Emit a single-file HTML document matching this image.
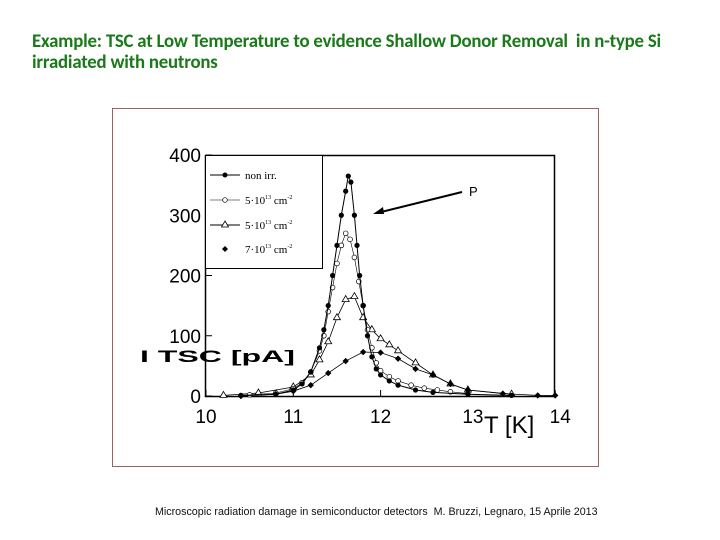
<!DOCTYPE html>
<html><head><meta charset="utf-8"><style>
body{margin:0;background:#fff;width:720px;height:540px;overflow:hidden;position:relative;font-family:"Liberation Sans",sans-serif}
.title{position:absolute;left:32px;top:31px;font-family:"Carlito","Liberation Sans",sans-serif;font-weight:bold;font-size:18.8px;line-height:21px;color:#1a7a1a;letter-spacing:-0.2px;white-space:nowrap}
.foot{position:absolute;left:155px;top:506px;font-size:10.7px;color:#111;white-space:nowrap}
</style></head><body>
<div class="title">Example: TSC at Low Temperature to evidence Shallow Donor Removal&nbsp; in n-type Si<br>irradiated with neutrons</div>
<svg id="chart" width="720" height="540" style="position:absolute;left:0;top:0">
<rect x="112.5" y="108.5" width="486" height="358" fill="none" stroke="#a06060"/>
<g id="axes"></g><g id="series"></g>
<g>
<rect x="205.5" y="155.5" width="117" height="113" fill="#fff" stroke="#000"/>
<line x1="210" y1="175" x2="240" y2="175" stroke="#000"/><circle cx="225" cy="175" r="2.5" fill="#000"/>
<text x="245" y="179" font-family="Liberation Serif" font-size="11">non irr.</text>
<line x1="210" y1="200" x2="240" y2="200" stroke="#000" stroke-width="0.6"/><circle cx="225" cy="200" r="2.3" fill="#fff" stroke="#000" stroke-width="0.7"/>
<text x="245" y="204" font-family="Liberation Serif" font-size="11">5·10<tspan font-size="6" dy="-5">13</tspan><tspan dy="5"> cm</tspan><tspan font-size="6" dy="-5">-2</tspan></text>
<line x1="210" y1="225" x2="240" y2="225" stroke="#000"/><path d="M225,221 l3.5,6 h-7z" fill="#fff" stroke="#000" stroke-width="0.8"/>
<text x="245" y="229" font-family="Liberation Serif" font-size="11">5·10<tspan font-size="6" dy="-5">13</tspan><tspan dy="5"> cm</tspan><tspan font-size="6" dy="-5">-2</tspan></text>
<path d="M225,246 l3,3 l-3,3 l-3,-3z" fill="#000"/>
<text x="245" y="253" font-family="Liberation Serif" font-size="11">7·10<tspan font-size="6" dy="-5">13</tspan><tspan dy="5"> cm</tspan><tspan font-size="6" dy="-5">-2</tspan></text>
</g>
<g>
<line x1="462" y1="192" x2="381" y2="212" stroke="#000" stroke-width="2"/>
<path d="M373,214 l10,-7 l1,7z" fill="#000"/>
<text x="469" y="196" font-size="13" fill="#000">P</text>
</g>
<text x="140" y="362" font-size="21" font-weight="bold" transform="translate(140,362) scale(1,0.8) translate(-140,-362)" textLength="155" lengthAdjust="spacingAndGlyphs">I TSC [pA]</text>
<text x="484" y="433" font-size="24">T [K]</text>
</svg>
<div class="foot">Microscopic radiation damage in semiconductor detectors&nbsp; M. Bruzzi, Legnaro, 15 Aprile 2013</div>
<script>
const xTicks=[10,11,12,13,14];
const yTicks=[0,100,200,300,400];
const tNonIrr=[10.4,10.8,11.0,11.1,11.2,11.3,11.35,11.4,11.45,11.5,11.55,11.6,11.63,11.66,11.7,11.73,11.76,11.8,11.85,11.9,11.95,12.0,12.1,12.2,12.4,12.6,13.0,13.5];
const vNonIrr=[1,3,10,20,40,80,110,150,200,250,300,340,365,355,300,250,200,150,100,65,45,35,25,18,10,6,3,1];
const tOpen=[10.5,10.8,11.0,11.1,11.2,11.3,11.35,11.4,11.45,11.5,11.55,11.6,11.65,11.7,11.75,11.8,11.85,11.9,11.95,12.0,12.1,12.2,12.35,12.5,12.65,12.8,13.0];
const vOpen=[2,5,12,22,40,75,100,140,180,220,250,270,260,230,190,150,110,80,55,42,32,25,18,13,10,7,4];
const tTri=[10.2,10.6,11.0,11.2,11.3,11.4,11.5,11.6,11.7,11.8,11.9,12.0,12.1,12.2,12.4,12.6,12.8,13.0,13.5];
const vTri=[1,5,15,35,60,90,130,160,165,130,110,95,85,75,55,35,20,10,3];
const tDia=[10.4,10.8,11.0,11.2,11.4,11.6,11.8,12.0,12.2,12.4,12.6,12.8,13.0,13.4,13.8,14.0];
const vDia=[0,3,8,18,38,58,73,72,62,45,35,20,10,4,1,1];
const X=t=>206+(t-10)*87.3, Y=v=>396-v*0.6025;
const NS="http://www.w3.org/2000/svg";
function mk(tag,at,parent){const e=document.createElementNS(NS,tag);for(const k in at)e.setAttribute(k,at[k]);parent.appendChild(e);return e;}
const ax=document.getElementById('axes'), sg=document.getElementById('series');
const fr=mk('rect',{x:205.5,y:155.5,width:349,height:241,fill:'none',stroke:'#000','stroke-width':1.5},ax);


xTicks.forEach(t=>{
 const l=mk('line',{x1:X(t),y1:396,x2:X(t),y2:390,stroke:'#000'},ax);
 
 
 const tx=mk('text',{x:X(t)-(t==13||t==14?-5:0),y:423,'font-size':19,'text-anchor':'middle'},ax);
 tx.textContent=t;
 
 
});
yTicks.forEach(v=>{
 const l=mk('line',{x1:206,y1:Y(v),x2:212,y2:Y(v),stroke:'#000'},ax);
 
 
 const tx=mk('text',{x:201,y:Y(v)+7,'font-size':19,'text-anchor':'end'},ax);
 tx.textContent=v;
 
 
});
function series(ts,vs,name,marker,lw){
 const g=mk('g',{},sg);
 
 
 mk('polyline',{points:ts.map((t,i)=>X(t)+','+Y(vs[i])).join(' '),fill:'none',stroke:'#000','stroke-width':lw},g);
 ts.forEach((t,i)=>{
  const x=X(t),y=Y(vs[i]);let m;
  if(marker=='fc')m=mk('circle',{cx:x,cy:y,r:2.6,fill:'#000'},g);
  else if(marker=='oc')m=mk('circle',{cx:x,cy:y,r:2.4,fill:'#fff',stroke:'#000','stroke-width':0.7},g);
  else if(marker=='tri')m=mk('path',{d:`M${x},${y-4} l3.5,6 h-7z`,fill:'#fff',stroke:'#000','stroke-width':0.8},g);
  else m=mk('path',{d:`M${x},${y-3.2} l3.2,3.2 l-3.2,3.2 l-3.2,-3.2z`,fill:'#000'},g);
  
  
 });
}
series(tTri,vTri,'series-5e13-triangle','tri',0.8);
series(tOpen,vOpen,'series-5e13-open-circle','oc',0.6);
series(tDia,vDia,'series-7e13-diamond','dia',0.8);
series(tNonIrr,vNonIrr,'series-non-irradiated','fc',1);
</script>
</body></html>
